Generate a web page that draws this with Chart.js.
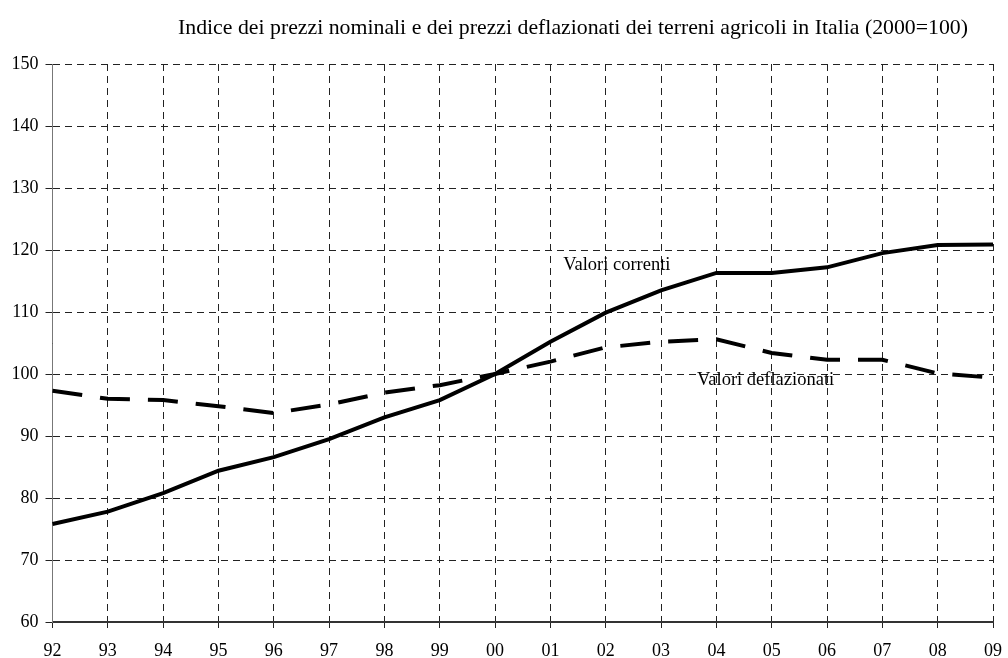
<!DOCTYPE html>
<html><head><meta charset="utf-8">
<script src="https://cdn.jsdelivr.net/npm/chart.js@4/dist/chart.umd.min.js"></script>
<style>html,body{margin:0;padding:0;background:#fff}#wrap{width:1008px;height:658px}</style>
</head><body><div id="wrap"><canvas id="c" width="1008" height="658"></canvas></div>
<script>
const years = ['92','93','94','95','96','97','98','99','00','01','02','03','04','05','06','07','08','09'];
const valoriCorrenti = [75.8,77.8,80.8,84.4,86.6,89.5,93.0,95.8,100,105.2,109.9,113.5,116.3,116.3,117.2,119.5,120.8,120.9];
const valoriDeflazionati = [97.3,96.0,95.8,94.8,93.7,95.1,97.0,98.2,100,102.0,104.3,105.2,105.6,103.4,102.3,102.3,100.1,99.4];
const titleText = 'Indice dei prezzi nominali e dei prezzi deflazionati dei terreni agricoli in Italia (2000=100)';
const seriesLabels = ['Valori correnti','Valori deflazionati'];

const FONT = '"Liberation Serif", "Times New Roman", serif';

const textPlugin = {
  id: 'texts',
  afterDraw(chart) {
    const ctx = chart.ctx, xs = chart.scales.x, ys = chart.scales.y;
    ctx.save();
    ctx.fillStyle = '#000';
    ctx.font = '21.8px ' + FONT;
    ctx.textAlign = 'center';
    ctx.textBaseline = 'middle';
    ctx.fillText(titleText, 573, 28);
    ctx.font = '18.5px ' + FONT;
    ctx.textAlign = 'left';
    ctx.fillText(seriesLabels[0], xs.getPixelForValue(9.23), ys.getPixelForValue(117.6));
    ctx.fillText(seriesLabels[1], xs.getPixelForValue(11.65), ys.getPixelForValue(99.0));
    ctx.restore();
  }
};

new Chart(document.getElementById('c'), {
  type: 'line',
  data: {
    labels: years,
    datasets: [
      {label: seriesLabels[0], data: valoriCorrenti, borderColor: '#000', borderWidth: 4, pointRadius: 0, tension: 0, fill: false},
      {label: seriesLabels[1], data: valoriDeflazionati, borderColor: '#000', borderWidth: 4, borderDash: [30, 18], pointRadius: 0, tension: 0, fill: false}
    ]
  },
  options: {
    responsive: false,
    animation: false,
    layout: {padding: {top: 64, right: 15, left: 0, bottom: 0}},
    plugins: {legend: {display: false}, title: {display: false}, tooltip: {enabled: false}},
    scales: {
      x: {
        type: 'category',
        offset: false,
        grid: {color: '#222', lineWidth: 1, drawTicks: true, tickLength: 6, tickColor: '#222', tickBorderDash: []},
        border: {display: true, color: '#333', width: 2, dash: [7, 5]},
        ticks: {color: '#000', font: {family: FONT, size: 18}, padding: 12, maxRotation: 0, autoSkip: false},
        afterFit(s) { s.height = 36; s.paddingLeft = 0; s.paddingRight = 0; }
      },
      y: {
        min: 60, max: 150,
        ticks: {stepSize: 10, color: '#000', font: {family: FONT, size: 18}, padding: 7},
        grid: {color: '#222', lineWidth: 1, drawTicks: true, tickLength: 7, tickColor: '#222', tickBorderDash: []},
        border: {display: true, color: '#777', width: 1, dash: [7, 5]},
        afterFit(s) { s.width = 52.5; s.paddingTop = 0; s.paddingBottom = 0; }
      }
    }
  },
  plugins: [textPlugin]
});
</script>
</body></html>
